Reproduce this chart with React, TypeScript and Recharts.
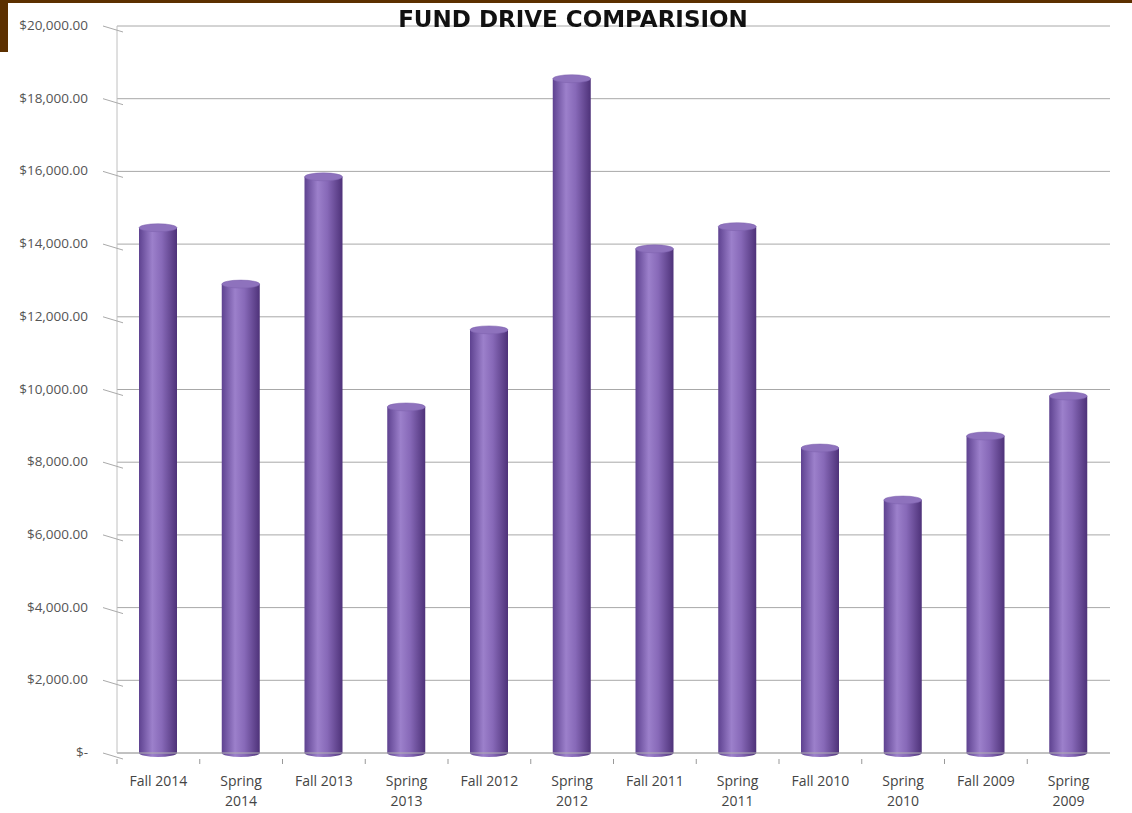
import React from 'react';
import { BarChart, Bar, XAxis, YAxis, CartesianGrid } from 'recharts';

const drives = [
  'Fall 2014', 'Spring 2014', 'Fall 2013', 'Spring 2013', 'Fall 2012', 'Spring 2012',
  'Fall 2011', 'Spring 2011', 'Fall 2010', 'Spring 2010', 'Fall 2009', 'Spring 2009',
];
const raised = [14450, 12900, 15850, 9520, 11640, 18550, 13870, 14480, 8390, 6960, 8720, 9820];
const yTicks = [0, 2000, 4000, 6000, 8000, 10000, 12000, 14000, 16000, 18000, 20000];

const data = drives.map((name, i) => ({ name, value: raised[i] }));

const fmt = (v: number) =>
  v === 0 ? '$-' : '$' + v.toLocaleString('en-US', { minimumFractionDigits: 2, maximumFractionDigits: 2 });

const FONT = '"Open Sans", "Liberation Sans", sans-serif';

function YTick(props: any) {
  const { x, y, payload } = props;
  return (
    <g>
      <line x1={x - 6} y1={y} x2={x + 14} y2={y + 6} stroke="#aaa" />
      <text x={x - 21} y={y} dy={4} textAnchor="end" fontSize={13.5} fill="#555" fontFamily={FONT}>
        {fmt(payload.value)}
      </text>
    </g>
  );
}

function XTick(props: any) {
  const { x, y, payload } = props;
  const parts = String(payload.value).split(' ');
  const band = 993 / 12;
  const spring = parts[0] === 'Spring';
  return (
    <g>
      <line x1={x - band / 2} y1={y - 2} x2={x - band / 2} y2={y + 3} stroke="#999" />
      {spring ? (
        <text x={x} y={y + 25} textAnchor="middle" fontSize={14} fill="#444" fontFamily={FONT}>
          <tspan x={x}>{parts[0]}</tspan>
          <tspan x={x} dy={20}>{parts[1]}</tspan>
        </text>
      ) : (
        <text x={x} y={y + 25} textAnchor="middle" fontSize={14} fill="#444" fontFamily={FONT}>
          {payload.value}
        </text>
      )}
    </g>
  );
}

function Cylinder(props: any) {
  const { x, y, width, height } = props;
  const ry = 4;
  return (
    <g>
      <ellipse cx={x + width / 2} cy={y + height} rx={width / 2} ry={ry} fill="url(#cyl)" />
      <rect x={x} y={y} width={width} height={height} fill="url(#cyl)" />
      <ellipse cx={x + width / 2} cy={y} rx={width / 2} ry={ry} fill="#8e72bd" stroke="#7d61ad" strokeWidth={0.5} />
    </g>
  );
}

export default function App() {
  return (
    <div style={{ position: 'fixed', left: 0, top: 0, width: 1132, height: 813, background: '#fff' }}>
      <div style={{ position: 'absolute', left: 0, top: 0, width: 1132, height: 3, background: '#5c3000' }} />
      <div style={{ position: 'absolute', left: 0, top: 0, width: 8, height: 52, background: '#5c3000' }} />
      <div
        style={{
          position: 'absolute',
          left: 0,
          top: 5,
          width: 1146,
          textAlign: 'center',
          fontFamily: '"DejaVu Sans", sans-serif',
          fontWeight: 700,
          fontSize: 23,
          lineHeight: '28px',
          color: '#111',
          zIndex: 2,
        }}
      >
        FUND DRIVE COMPARISION
      </div>
      <BarChart width={1132} height={813} data={data} margin={{ top: 26, right: 22, left: 0, bottom: 0 }}>
        <defs>
          <linearGradient id="cyl" x1="0" y1="0" x2="1" y2="0">
            <stop offset="0%" stopColor="#5e4290" />
            <stop offset="35%" stopColor="#9c80cb" />
            <stop offset="60%" stopColor="#8769b8" />
            <stop offset="100%" stopColor="#4e3279" />
          </linearGradient>
        </defs>
        <CartesianGrid horizontal vertical={false} stroke="#a8a8a8" />
        <XAxis
          dataKey="name"
          height={60}
          interval={0}
          tickLine={false}
          axisLine={{ stroke: '#b0b0b0' }}
          tick={<XTick />}
        />
        <YAxis
          width={117}
          domain={[0, 20000]}
          ticks={yTicks}
          interval={0}
          tickLine={false}
          axisLine={{ stroke: '#c0c0c0' }}
          tick={<YTick />}
        />
        <Bar dataKey="value" barSize={38} shape={<Cylinder />} isAnimationActive={false} />
      </BarChart>
    </div>
  );
}
